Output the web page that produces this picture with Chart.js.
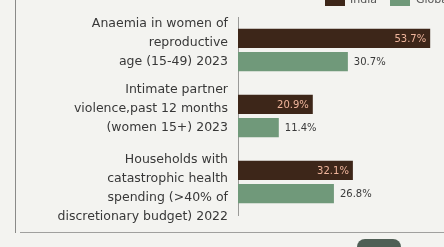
<!DOCTYPE html>
<html><head><meta charset="utf-8">
<script src="https://cdn.jsdelivr.net/npm/chart.js@4.4.1/dist/chart.umd.min.js"></script>
<style>
html,body{margin:0;padding:0;background:#f3f3f0;}
#wrap{position:absolute;left:0;top:0;width:444px;height:247px;}
</style></head>
<body><div id="wrap"><canvas id="c" width="444" height="247"></canvas></div>
<script>
const categories = [
  ["Anaemia in women of","reproductive","age (15-49) 2023"],
  ["Intimate partner","violence,past 12 months","(women 15+) 2023"],
  ["Households with","catastrophic health","spending (>40% of","discretionary budget) 2022"]
];
const seriesNames = ["India","Global"];
const indiaValues = [53.7, 20.9, 32.1];
const globalValues = [30.7, 11.4, 26.8];

const darkColor = '#3d2619';
const greenColor = '#70997a';

const decor = {
  id:'decor',
  beforeDraw(chart){
    const ctx = chart.ctx;
    ctx.save();
    ctx.fillStyle = '#f3f3f0';
    ctx.fillRect(0,0,chart.width,chart.height);
    ctx.strokeStyle = '#8a8a88';
    ctx.lineWidth = 1;
    ctx.beginPath(); ctx.moveTo(15.5,0); ctx.lineTo(15.5,233); ctx.stroke();
    ctx.strokeStyle = '#a0a09e';
    ctx.beginPath(); ctx.moveTo(20,232.5); ctx.lineTo(444,232.5); ctx.stroke();
    ctx.fillStyle = '#4f5f55';
    ctx.beginPath(); ctx.roundRect(357,239,44,16,8); ctx.fill();
    ctx.restore();
  },
  afterDatasetsDraw(chart){
    const ctx = chart.ctx;
    const ys = chart.scales.y;
    ctx.save();
    // category labels (top-aligned near each group)
    ctx.font = '12.5px "DejaVu Sans"';
    ctx.fillStyle = '#383838';
    ctx.textAlign = 'right';
    ctx.textBaseline = 'middle';
    const lh = 19;
    categories.forEach((lines,i)=>{
      const cy = ys.getPixelForTick(i);
      const y0 = cy - 26 + (i===2 ? 4 : 0);
      lines.forEach((t,j)=>ctx.fillText(t, 228, y0 + j*lh));
    });
    ctx.font = '10px "DejaVu Sans"';
    chart.getDatasetMeta(0).data.forEach((bar,i)=>{
      ctx.fillStyle = '#f0b59c';
      ctx.textAlign = 'right';
      ctx.fillText(indiaValues[i].toFixed(1)+'%', bar.x-4, bar.y+1);
    });
    chart.getDatasetMeta(1).data.forEach((bar,i)=>{
      ctx.fillStyle = '#3a3a3a';
      ctx.textAlign = 'left';
      ctx.fillText(globalValues[i].toFixed(1)+'%', bar.x+6, bar.y+1);
    });
    // legend, partially cut at top
    ctx.fillStyle = darkColor; ctx.fillRect(325,-6,20,12);
    ctx.fillStyle = greenColor; ctx.fillRect(390,-6,20,12);
    ctx.fillStyle = '#555';
    ctx.font = '11px "DejaVu Sans"';
    ctx.textAlign='left';
    ctx.fillText(seriesNames[0], 350, 0);
    ctx.fillText(seriesNames[1], 416, 0);
    ctx.restore();
  }
};

new Chart(document.getElementById('c'), {
  type:'bar',
  data:{
    labels: categories,
    datasets:[
      {label:seriesNames[0], data:indiaValues, backgroundColor:darkColor, categoryPercentage:0.7, barPercentage:0.83},
      {label:seriesNames[1], data:globalValues, backgroundColor:greenColor, categoryPercentage:0.7, barPercentage:0.83}
    ]
  },
  options:{
    indexAxis:'y',
    responsive:false,
    animation:false,
    layout:{padding:{top:17,bottom:32,left:0,right:2}},
    plugins:{legend:{display:false},tooltip:{enabled:false}},
    scales:{
      x:{min:0,max:57,display:false,grid:{display:false}},
      y:{
        afterFit(s){ s.width = 238; },
        grid:{display:false, drawTicks:false},
        border:{display:true,color:'#9a9a98',width:1},
        ticks:{display:false}
      }
    }
  },
  plugins:[decor]
});
</script></body></html>
